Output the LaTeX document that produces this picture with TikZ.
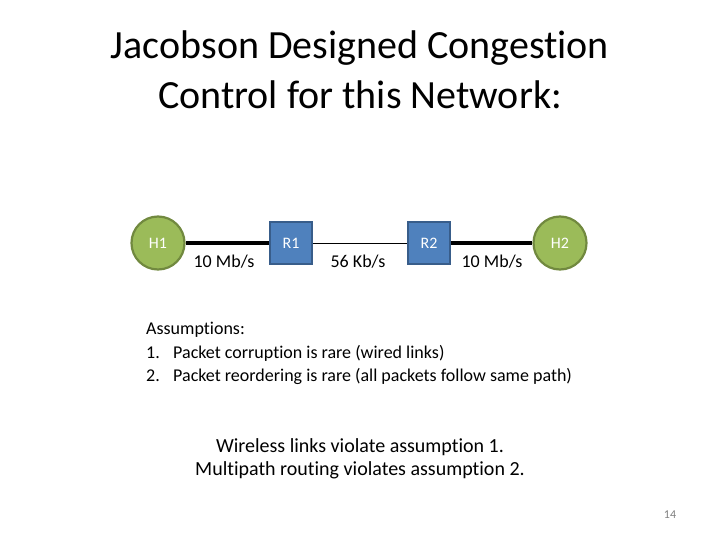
\documentclass[tikz,border=0pt]{standalone}
\usepackage{fontspec}
\setmainfont{Carlito}[Ligatures=CommonOff]
\usetikzlibrary{positioning}
\definecolor{hostfill}{HTML}{9BBB59}
\definecolor{hostline}{HTML}{71893F}
\definecolor{routerfill}{HTML}{4F81BD}
\definecolor{routerline}{HTML}{385D8A}
\tikzset{
  host/.style={circle, draw=hostline, fill=hostfill, line width=2.2pt, minimum size=53pt, inner sep=0pt, text=white, font=\fontsize{16}{19}\selectfont},
  router/.style={rectangle, draw=routerline, fill=routerfill, line width=2pt, minimum size=42pt, inner sep=0pt, text=white, font=\fontsize{16}{19}\selectfont},
  fastlink/.style={line width=4pt},
  slowlink/.style={line width=0.8pt},
  rate/.style={font=\fontsize{18}{21}\selectfont, inner sep=0pt},
  title/.style={font=\fontsize{40}{50}\selectfont, align=center},
  body/.style={font=\fontsize{18}{23}\selectfont, inner sep=0pt, anchor=west}
}

\begin{document}
\begin{tikzpicture}[x=1pt,y=-1pt]
  \useasboundingbox (0,0) rectangle (720,540);

  \node[title] (heading) at (360,70)
    {Jacobson Designed Congestion\\Control for this Network:};

  \node[host] (h1) at (158,243) {H1};
  \node[router] (r1) at (291,243) {R1};
  \node[router] (r2) at (429,243) {R2};
  \node[host] (h2) at (560,243) {H2};

  \draw[fastlink] (h1) -- (r1);
  \draw[slowlink] (r1) -- (r2);
  \draw[fastlink] (r2) -- (h2);

  \node[rate] (rate1) at (224,262) {10 Mb/s};
  \node[rate] (rate2) at (358,262) {56 Kb/s};
  \node[rate] (rate3) at (492,262) {10 Mb/s};

  \node[body] (assume) at (146,330) {Assumptions:};
  \node[body] (num1) at (146,353) {1.};
  \node[body] (item1) at (173,353) {Packet corruption is rare (wired links)};
  \node[body] (num2) at (146,376) {2.};
  \node[body] (item2) at (173,376) {Packet reordering is rare (all packets follow same path)};

  \node[font=\fontsize{20}{23}\selectfont, align=center] (verdict) at (360,459)
    {Wireless links violate assumption 1.\\Multipath routing violates assumption 2.};

  \node[font=\fontsize{12}{14}\selectfont, text=gray] (page) at (670,515) {14};
\end{tikzpicture}
\end{document}
